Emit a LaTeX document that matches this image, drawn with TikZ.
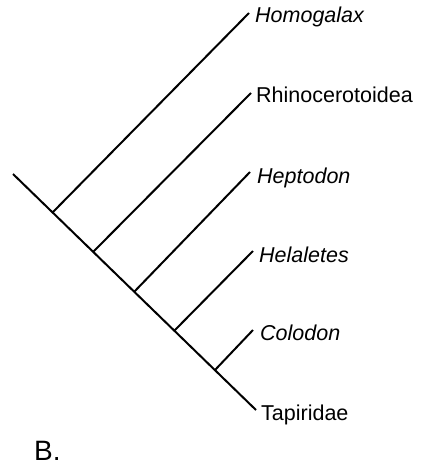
\documentclass[tikz,border=0pt]{standalone}
\usepackage{fontspec}
\setmainfont{Liberation Sans}
\usetikzlibrary{positioning}

\begin{document}
\begin{tikzpicture}[x=1pt, y=-1pt,
  branch/.style={line width=2pt},
  taxon/.style={anchor=base west, inner sep=0pt, font=\fontsize{21.5}{26}\selectfont},
  genus/.style={taxon, font=\fontsize{21.5}{26}\selectfont\itshape}
]
\useasboundingbox (0,0) rectangle (422,471);
\coordinate (root) at (13,174);
\coordinate (j1) at (53,212);
\coordinate (j2) at (93,252);
\coordinate (j3) at (134,292);
\coordinate (j4) at (174,331);
\coordinate (j5) at (215,370);

\node[genus] (homogalax) at (255,23) {Homogalax};
\node[taxon] (rhino) at (256,102) {Rhinocerotoidea};
\node[genus] (heptodon) at (257,183) {Heptodon};
\node[genus] (helaletes) at (259,262) {Helaletes};
\node[genus] (colodon) at (260,340) {Colodon};
\node[taxon] (tapiridae) at (261,420) {Tapiridae};
\node[taxon, font=\fontsize{28}{32}\selectfont] (fig) at (34,460) {B.};

\draw[branch] (root) -- ([shift={(-5pt,10pt)}]tapiridae.base west);
\draw[branch] (j1) -- ([shift={(-6pt,10pt)}]homogalax.base west);
\draw[branch] (j2) -- ([shift={(-5pt,9pt)}]rhino.base west);
\draw[branch] (j3) -- ([shift={(-7pt,11pt)}]heptodon.base west);
\draw[branch] (j4) -- ([shift={(-6pt,11pt)}]helaletes.base west);
\draw[branch] (j5) -- ([shift={(-7pt,10pt)}]colodon.base west);
\end{tikzpicture}
\end{document}
